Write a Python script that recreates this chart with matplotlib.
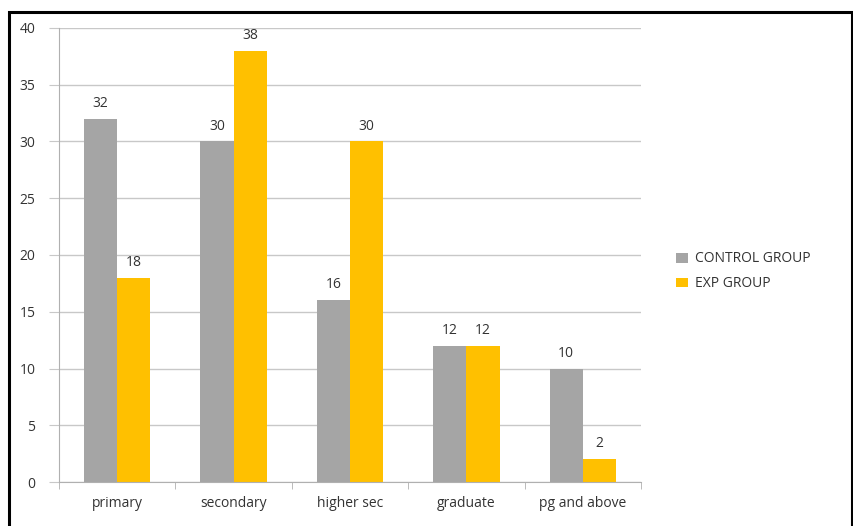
import numpy as np
import matplotlib.pyplot as plt
from matplotlib.patches import Rectangle

# Data
categories = ['primary', 'secondary', 'higher sec', 'graduate', 'pg and above']
control_group = [32, 30, 16, 12, 10]
exp_group = [18, 38, 30, 12, 2]
series_names = ['CONTROL GROUP', 'EXP GROUP']

plt.rcParams['font.family'] = ['Open Sans', 'DejaVu Sans']

W, H = 854, 526
fig = plt.figure(figsize=(W / 100, H / 100), dpi=100)
ax = fig.add_axes([59 / W, 44 / H, (641 - 59) / W, (482 - 28) / H])

x = np.arange(len(categories))
bw = 0.285
gray = '#a5a5a5'
gold = '#ffc000'
b1 = ax.bar(x - bw / 2, control_group, bw, color=gray, label=series_names[0], zorder=2)
b2 = ax.bar(x + bw / 2, exp_group, bw, color=gold, label=series_names[1], zorder=2)

for bars in (b1, b2):
    for r in bars:
        ax.text(r.get_x() + r.get_width() / 2, r.get_height() + 0.7, f'{int(r.get_height())}',
                ha='center', va='bottom', fontsize=10, color='#333333')

ax.set_xlim(-0.5, len(categories) - 0.5)
ax.set_ylim(0, 40)
ax.set_yticks(range(0, 41, 5))
ax.yaxis.grid(True, color='#c8c8c8', linewidth=1, zorder=0)
ax.set_xticks(x)
ax.set_xticklabels(categories, fontsize=10, color='#333333')
ax.set_xticks(np.arange(-0.5, len(categories), 1), minor=True)
ax.tick_params(axis='x', which='major', length=0, pad=10)
ax.tick_params(axis='x', which='minor', length=5, color='#b0b0b0', direction='out')
ax.tick_params(axis='y', length=7, color='#c8c8c8', labelsize=10, labelcolor='#333333', pad=10)
for s in ['top', 'right']:
    ax.spines[s].set_visible(False)
for s in ['left', 'bottom']:
    ax.spines[s].set_color('#b0b0b0')

fig.legend(handles=[b1, b2], loc='upper left', bbox_to_anchor=(664 / W, 1 - 239 / H),
           frameon=False, fontsize=10, handlelength=0.8, handleheight=0.7,
           handletextpad=0.5, labelspacing=0.7, labelcolor='#333333')

# outer black frame
fig.add_artist(Rectangle((8.5 / W, -0.1), (852 - 8.5) / W, 1.1 - 11.5 / H,
                         transform=fig.transFigure, fill=False, edgecolor='black',
                         linewidth=2.2))

fig.savefig('out.png', dpi=100)
